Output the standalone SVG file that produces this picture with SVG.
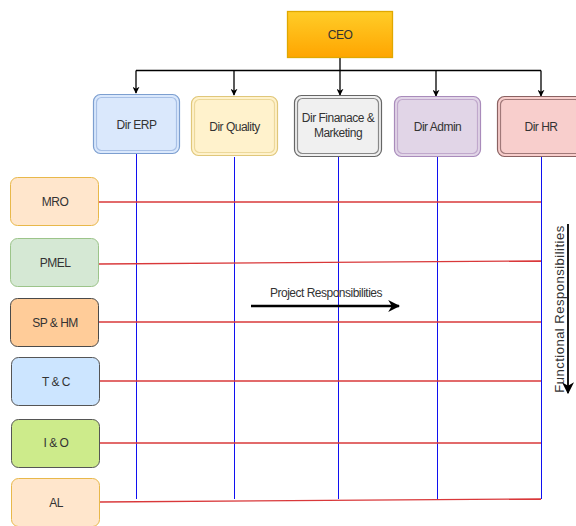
<svg xmlns="http://www.w3.org/2000/svg" width="576" height="526" viewBox="0 0 576 526">
  <defs>
    <linearGradient id="ceoFill" x1="0" y1="0" x2="0" y2="1">
      <stop offset="0" stop-color="#ffcd28"/>
      <stop offset="1" stop-color="#ffa500"/>
    </linearGradient>
    <marker id="arrow" viewBox="0 0 10 10" refX="9" refY="5" markerWidth="7" markerHeight="7" markerUnits="userSpaceOnUse" orient="auto">
      <path d="M0,0 L10,5 L0,10 L3,5 Z" fill="#000"/>
    </marker>
    <marker id="bigArrow" viewBox="0 0 10 10" refX="9" refY="5" markerWidth="12" markerHeight="12" markerUnits="userSpaceOnUse" orient="auto">
      <path d="M0,0 L10,5 L0,10 L3,5 Z" fill="#000"/>
    </marker>
  </defs>
  <style>
    text { font-family: "Liberation Sans", Arial, sans-serif; font-size: 12px; fill: #333; text-anchor: middle; dominant-baseline: central; letter-spacing: -0.5px; }
    .dir rect { stroke-width: 1.2; }
    .lane rect { stroke-width: 1; }
    .tree { fill: none; stroke: #000; stroke-width: 1.3; }
    .vline { stroke: #1010f0; stroke-width: 1; fill: none; }
    .hline { stroke: #d9383a; stroke-width: 1.3; fill: none; }
  </style>

  <!-- connectors -->
  <g id="connectors">
    <path class="tree" d="M340,58 V70.5 M136,70.5 H541"/>
    <path class="tree" d="M136,70.5 V93" marker-end="url(#arrow)"/>
    <path class="tree" d="M234,70.5 V95" marker-end="url(#arrow)"/>
    <path class="tree" d="M340,70.5 V95" marker-end="url(#arrow)"/>
    <path class="tree" d="M436,70.5 V96" marker-end="url(#arrow)"/>
    <path class="tree" d="M541,70.5 V96" marker-end="url(#arrow)"/>

    <!-- functional (vertical) responsibility lines -->
    <path class="vline" d="M136.5,154 V499"/>
    <path class="vline" d="M234.5,157 V499"/>
    <path class="vline" d="M338.5,157 V499"/>
    <path class="vline" d="M437.5,157 V499"/>
    <path class="vline" d="M541.5,157 V499"/>

    <!-- project (horizontal) responsibility lines -->
    <path class="hline" d="M99,202 H541"/>
    <path class="hline" d="M99,264 L541,261"/>
    <path class="hline" d="M99,322 H541"/>
    <path class="hline" d="M100,381 H541"/>
    <path class="hline" d="M100,443 H541"/>
    <path class="hline" d="M100,502 L541,499"/>

    <!-- axis arrows -->
    <path d="M251,306 H399" stroke="#000" stroke-width="2.5" fill="none" marker-end="url(#bigArrow)"/>
    <path d="M568,224 V393" stroke="#000" stroke-width="1.8" fill="none" marker-end="url(#bigArrow)"/>
  </g>

  <text x="326" y="293">Project Responsibilities</text>
  <text x="559" y="309" transform="rotate(-90 559 309)" style="font-size:13px;letter-spacing:0.5px">Functional Responsibilities</text>

  <!-- CEO -->
  <g id="ceo">
    <rect x="287.5" y="11.5" width="105" height="46" fill="url(#ceoFill)" stroke="#e0a800" stroke-width="1.3"/>
    <text x="340" y="35">CEO</text>
  </g>

  <!-- directors -->
  <g id="dir-erp" class="dir">
    <rect x="93.5" y="94.5" width="86" height="59" rx="7" fill="#dae8fc" stroke="#7d9fd0"/>
    <rect x="96.5" y="97.5" width="80" height="53" rx="5" fill="none" stroke="#a8c0e6"/>
    <text x="136.5" y="125">Dir ERP</text>
  </g>
  <g id="dir-quality" class="dir">
    <rect x="191.5" y="96.5" width="86" height="59" rx="7" fill="#fff2cc" stroke="#e0c77a"/>
    <rect x="194.5" y="99.5" width="80" height="53" rx="5" fill="none" stroke="#ecd89a"/>
    <text x="234.5" y="127">Dir Quality</text>
  </g>
  <g id="dir-finance" class="dir">
    <rect x="294.5" y="95.5" width="87" height="61" rx="7" fill="#f0f0f0" stroke="#666"/>
    <rect x="297.5" y="98.5" width="81" height="55" rx="5" fill="none" stroke="#888"/>
    <text x="338" y="118">Dir Finanace &amp;</text>
    <text x="338" y="133">Marketing</text>
  </g>
  <g id="dir-admin" class="dir">
    <rect x="394.5" y="96.5" width="86" height="60" rx="7" fill="#e1d5e7" stroke="#a98bbb"/>
    <rect x="397.5" y="99.5" width="80" height="54" rx="5" fill="none" stroke="#c0a8cc"/>
    <text x="437.5" y="127">Dir Admin</text>
  </g>
  <g id="dir-hr" class="dir">
    <rect x="497.5" y="96.5" width="86" height="60" rx="7" fill="#f8cecc" stroke="#8a6262"/>
    <rect x="500.5" y="99.5" width="80" height="54" rx="5" fill="none" stroke="#a07878"/>
    <text x="541" y="127">Dir HR</text>
  </g>

  <!-- project lanes -->
  <g id="mro" class="lane">
    <rect x="10.5" y="177.5" width="88" height="48" rx="7" fill="#ffe6cc" stroke="#e8b84a"/>
    <text x="55" y="202">MRO</text>
  </g>
  <g id="pmel" class="lane">
    <rect x="10.5" y="238.5" width="88" height="48" rx="7" fill="#d5e8d4" stroke="#9cc48a"/>
    <text x="55" y="263">PMEL</text>
  </g>
  <g id="sphm" class="lane">
    <rect x="10.5" y="298.5" width="88" height="48" rx="7" fill="#ffcc99" stroke="#4a4a4a"/>
    <text x="55" y="323">SP &amp; HM</text>
  </g>
  <g id="tc" class="lane">
    <rect x="11.5" y="357.5" width="88" height="48" rx="7" fill="#cce5ff" stroke="#555"/>
    <text x="56" y="382">T &amp; C</text>
  </g>
  <g id="io" class="lane">
    <rect x="11.5" y="419.5" width="88" height="48" rx="7" fill="#cdeb8b" stroke="#555"/>
    <text x="56" y="443">I &amp; O</text>
  </g>
  <g id="al" class="lane">
    <rect x="11.5" y="478.5" width="88" height="48" rx="7" fill="#ffe6cc" stroke="#e8b84a"/>
    <text x="56" y="503">AL</text>
  </g>
</svg>
